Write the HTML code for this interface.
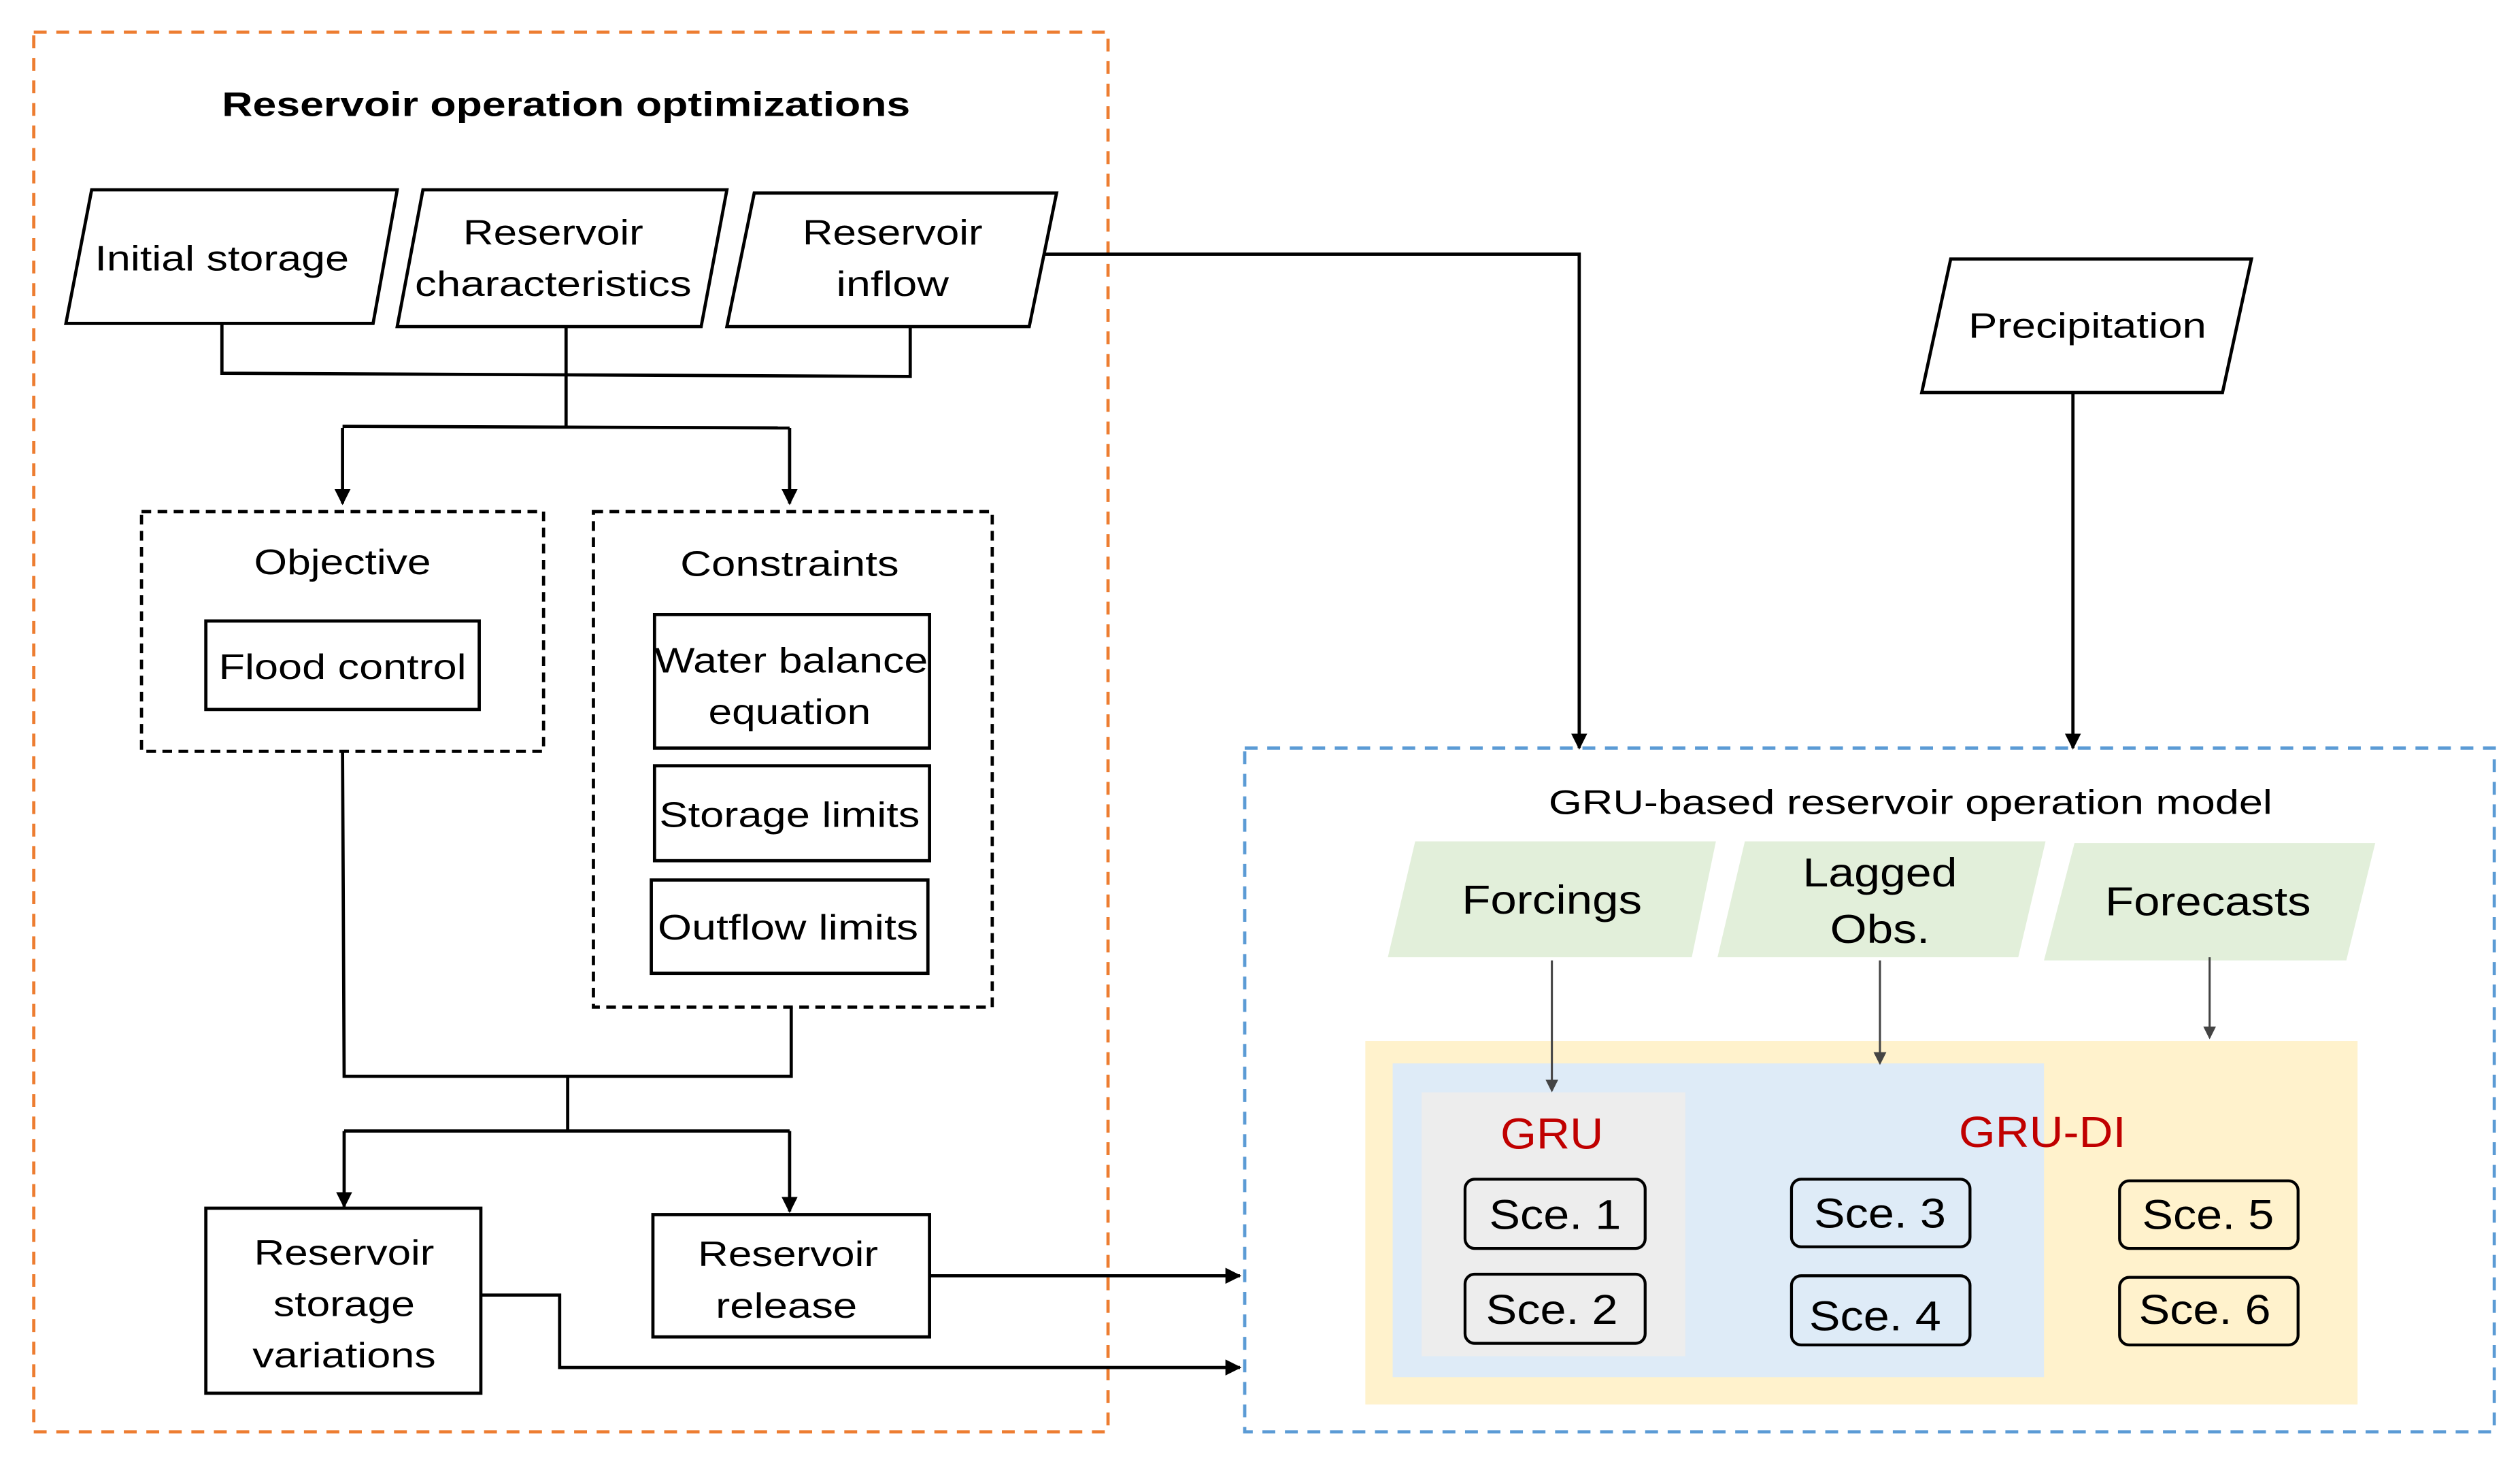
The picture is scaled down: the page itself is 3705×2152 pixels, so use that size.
<!DOCTYPE html>
<html><head><meta charset="utf-8"><style>
html,body{margin:0;padding:0;background:#fff;}
svg{display:block;}
text{font-family:"Liberation Sans",Arial,sans-serif;fill:#000;}
</style></head><body>
<svg width="3705" height="2152" viewBox="0 0 1567 910" preserveAspectRatio="none" xmlns="http://www.w3.org/2000/svg">
<defs>
<marker id="a" markerWidth="10" markerHeight="10" refX="9" refY="5" orient="auto" markerUnits="userSpaceOnUse"><path d="M0,0 L10,5 L0,10 z" fill="#000"/></marker>
<marker id="g" markerWidth="8" markerHeight="8" refX="7" refY="4" orient="auto" markerUnits="userSpaceOnUse"><path d="M0,0 L8,4 L0,8 z" fill="#444"/></marker>
</defs>
<rect x="0" y="0" width="1567" height="910" fill="#fff"/>
<rect x="21" y="20" width="668" height="870" fill="none" stroke="#ed7d31" stroke-width="2" stroke-dasharray="8,6"/>
<text x="352" y="72" font-size="21" font-weight="bold" text-anchor="middle" textLength="428" lengthAdjust="spacingAndGlyphs">Reservoir operation optimizations</text>

<g fill="#fff" stroke="#000" stroke-width="2">
<polygon points="57,118 247,118 232,201 41,201"/>
<polygon points="263,118 452,118 436,203 247,203"/>
<polygon points="469,120 657,120 640,203 452,203"/>
<polygon points="1213,161 1400,161 1382,244 1195,244"/>
</g>
<g font-size="22" text-anchor="middle">
<text x="138" y="168" textLength="158" lengthAdjust="spacingAndGlyphs">Initial storage</text>
<text x="344" y="152" textLength="112" lengthAdjust="spacingAndGlyphs">Reservoir</text>
<text x="344" y="184" textLength="172" lengthAdjust="spacingAndGlyphs">characteristics</text>
<text x="555" y="152" textLength="112" lengthAdjust="spacingAndGlyphs">Reservoir</text>
<text x="555" y="184" textLength="70" lengthAdjust="spacingAndGlyphs">inflow</text>
<text x="1298" y="210" textLength="148" lengthAdjust="spacingAndGlyphs">Precipitation</text>
</g>

<g fill="none" stroke="#000" stroke-width="2">
<polyline points="138,201 138,232 566,234 566,203"/>
<line x1="352" y1="203" x2="352" y2="265"/>
<line x1="213" y1="265" x2="491" y2="266"/>
<line x1="213" y1="266" x2="213" y2="313" marker-end="url(#a)"/>
<line x1="491" y1="266" x2="491" y2="313" marker-end="url(#a)"/>
<polyline points="650,158 982,158 982,465" marker-end="url(#a)"/>
<line x1="1289" y1="244" x2="1289" y2="465" marker-end="url(#a)"/>
<rect x="88" y="318" width="250" height="149" stroke-dasharray="6,4"/>
<rect x="369" y="318" width="248" height="308" stroke-dasharray="6,4"/>
<rect x="128" y="386" width="170" height="55"/>
<rect x="407" y="382" width="171" height="83"/>
<rect x="407" y="476" width="171" height="59"/>
<rect x="405" y="547" width="172" height="58"/>
<polyline points="213,467 214,669 492,669 492,626"/>
<line x1="353" y1="669" x2="353" y2="703"/>
<line x1="214" y1="703" x2="491" y2="703"/>
<line x1="214" y1="703" x2="214" y2="750" marker-end="url(#a)"/>
<line x1="491" y1="703" x2="491" y2="753" marker-end="url(#a)"/>
<rect x="128" y="751" width="171" height="115"/>
<rect x="406" y="755" width="172" height="76"/>
<line x1="578" y1="793" x2="771" y2="793" marker-end="url(#a)"/>
<polyline points="299,805 348,805 348,850 771,850" marker-end="url(#a)"/>
</g>
<g font-size="22" text-anchor="middle">
<text x="213" y="357" textLength="110" lengthAdjust="spacingAndGlyphs">Objective</text>
<text x="213" y="422" textLength="154" lengthAdjust="spacingAndGlyphs">Flood control</text>
<text x="491" y="358" textLength="136" lengthAdjust="spacingAndGlyphs">Constraints</text>
<text x="492" y="418" textLength="170" lengthAdjust="spacingAndGlyphs">Water balance</text>
<text x="491" y="450" textLength="101" lengthAdjust="spacingAndGlyphs">equation</text>
<text x="491" y="514" textLength="162" lengthAdjust="spacingAndGlyphs">Storage limits</text>
<text x="490" y="584" textLength="162" lengthAdjust="spacingAndGlyphs">Outflow limits</text>
<text x="214" y="786" textLength="112" lengthAdjust="spacingAndGlyphs">Reservoir</text>
<text x="214" y="818" textLength="88" lengthAdjust="spacingAndGlyphs">storage</text>
<text x="214" y="850" textLength="114" lengthAdjust="spacingAndGlyphs">variations</text>
<text x="490" y="787" textLength="112" lengthAdjust="spacingAndGlyphs">Reservoir</text>
<text x="489" y="819" textLength="88" lengthAdjust="spacingAndGlyphs">release</text>
</g>

<rect x="774" y="465" width="777" height="425" fill="none" stroke="#5b9bd5" stroke-width="2" stroke-dasharray="8,6"/>
<text x="1188" y="506" font-size="21" text-anchor="middle" textLength="450" lengthAdjust="spacingAndGlyphs">GRU-based reservoir operation model</text>
<g fill="#e2efda">
<polygon points="880,523 1067,523 1052,595 863,595"/>
<polygon points="1085,523 1272,523 1255,595 1068,595"/>
<polygon points="1290,524 1477,524 1459,597 1271,597"/>
</g>
<g font-size="25" text-anchor="middle">
<text x="965" y="568" textLength="112" lengthAdjust="spacingAndGlyphs">Forcings</text>
<text x="1169" y="551" textLength="96" lengthAdjust="spacingAndGlyphs">Lagged</text>
<text x="1169" y="586" textLength="62" lengthAdjust="spacingAndGlyphs">Obs.</text>
<text x="1373" y="569" textLength="128" lengthAdjust="spacingAndGlyphs">Forecasts</text>
</g>
<rect x="849" y="647" width="617" height="226" fill="#fff2cc"/>
<rect x="866" y="661" width="405" height="195" fill="#deebf7"/>
<rect x="884" y="679" width="164" height="164" fill="#ededed"/>
<g stroke="#444" stroke-width="1.3" fill="none">
<line x1="965" y1="597" x2="965" y2="678" marker-end="url(#g)"/>
<line x1="1169" y1="597" x2="1169" y2="661" marker-end="url(#g)"/>
<line x1="1374" y1="595" x2="1374" y2="645" marker-end="url(#g)"/>
</g>
<g font-size="27" text-anchor="middle">
<text x="965" y="714" style="fill:#c00000" textLength="64" lengthAdjust="spacingAndGlyphs">GRU</text>
<text x="1270" y="713" style="fill:#c00000" textLength="104" lengthAdjust="spacingAndGlyphs">GRU-DI</text>
</g>
<g stroke="#000" stroke-width="1.8">
<rect x="911" y="733" width="112" height="43" rx="6" fill="#ededed"/>
<rect x="911" y="792" width="112" height="43" rx="6" fill="#ededed"/>
<rect x="1114" y="733" width="111" height="42" rx="6" fill="#deebf7"/>
<rect x="1114" y="793" width="111" height="43" rx="6" fill="#deebf7"/>
<rect x="1318" y="734" width="111" height="42" rx="6" fill="#fff2cc"/>
<rect x="1318" y="794" width="111" height="42" rx="6" fill="#fff2cc"/>
</g>
<g font-size="26" text-anchor="middle">
<text x="967" y="764" textLength="82" lengthAdjust="spacingAndGlyphs">Sce. 1</text>
<text x="965" y="823" textLength="82" lengthAdjust="spacingAndGlyphs">Sce. 2</text>
<text x="1169" y="763" textLength="82" lengthAdjust="spacingAndGlyphs">Sce. 3</text>
<text x="1166" y="827" textLength="82" lengthAdjust="spacingAndGlyphs">Sce. 4</text>
<text x="1373" y="764" textLength="82" lengthAdjust="spacingAndGlyphs">Sce. 5</text>
<text x="1371" y="823" textLength="82" lengthAdjust="spacingAndGlyphs">Sce. 6</text>
</g>
</svg>
</body></html>
